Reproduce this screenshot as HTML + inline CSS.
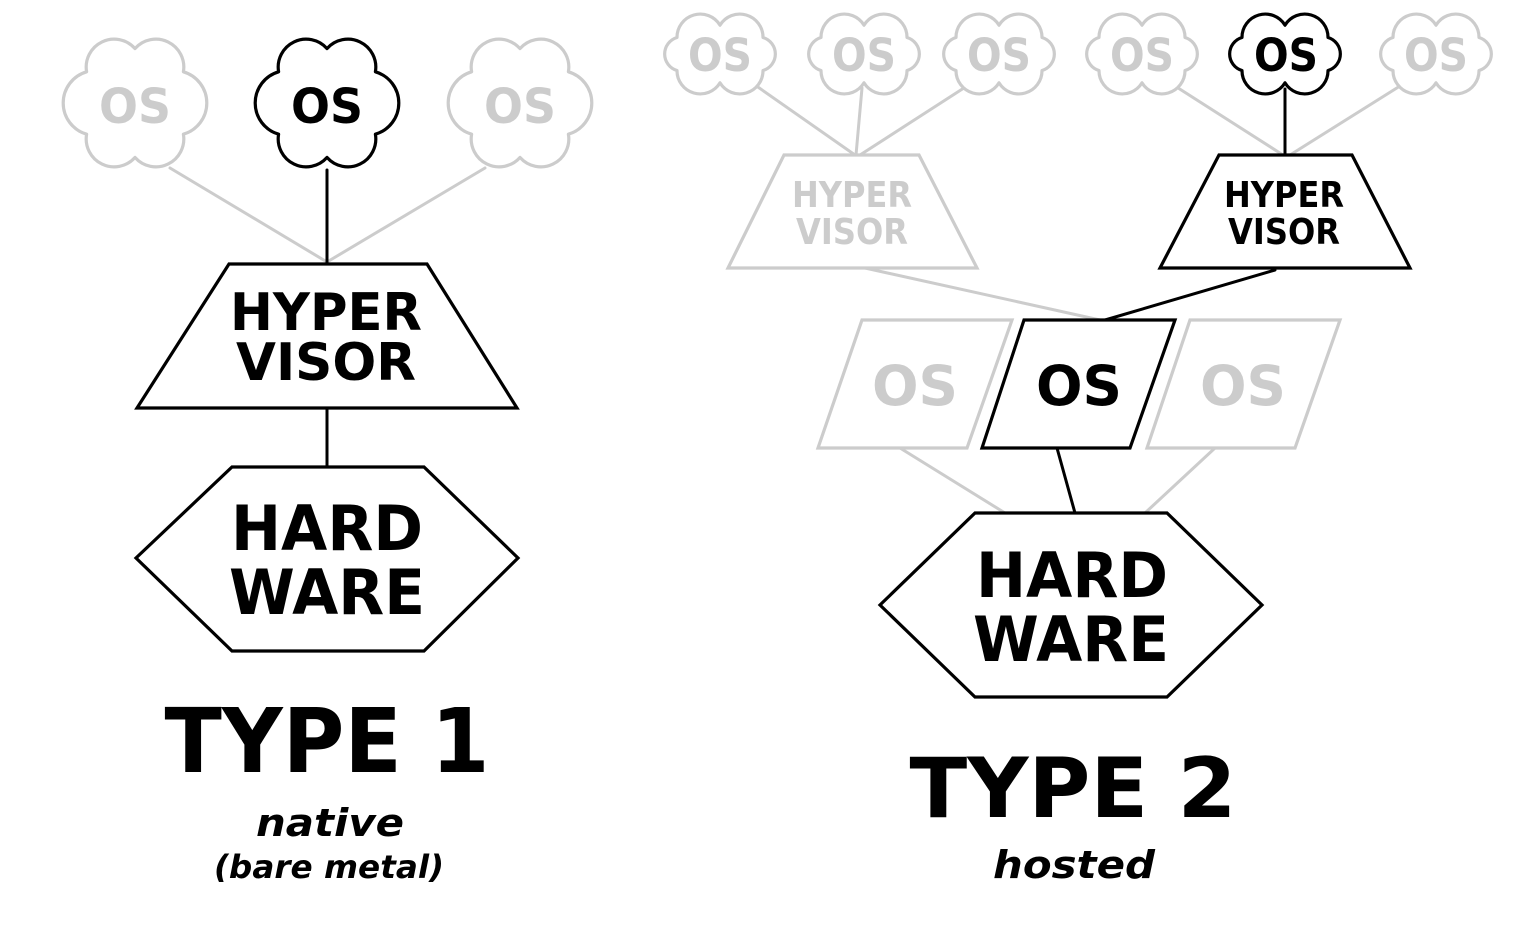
<!DOCTYPE html>
<html><head><meta charset="utf-8"><style>
html,body{margin:0;padding:0;background:#fff;}
svg{display:block;}
text{font-family:"DejaVu Sans","Liberation Sans",sans-serif;font-weight:bold;text-anchor:middle;}
</style></head><body>
<svg id="s" width="1535" height="937" viewBox="0 0 1535 937" xmlns="http://www.w3.org/2000/svg">
<g fill="none" stroke-width="3" stroke-linecap="round">
<line x1="170" y1="168" x2="327" y2="262" stroke="#ccc"/>
<line x1="485" y1="168" x2="327" y2="262" stroke="#ccc"/>
<line x1="327" y1="170" x2="327" y2="264" stroke="#000"/>
<line x1="327" y1="408" x2="327" y2="467" stroke="#000"/>
<line x1="755" y1="85" x2="855" y2="155" stroke="#ccc"/>
<line x1="862" y1="88" x2="856" y2="155" stroke="#ccc"/>
<line x1="967" y1="86" x2="860" y2="155" stroke="#ccc"/>
<line x1="1175" y1="86" x2="1283" y2="155" stroke="#ccc"/>
<line x1="1400" y1="86" x2="1290" y2="155" stroke="#ccc"/>
<line x1="1285" y1="89" x2="1285" y2="155" stroke="#000"/>
<line x1="865" y1="268" x2="1100" y2="320" stroke="#ccc"/>
<line x1="1275" y1="270" x2="1105" y2="320" stroke="#000"/>
<line x1="900" y1="448" x2="1005" y2="513" stroke="#ccc"/>
<line x1="1215" y1="448" x2="1145" y2="513" stroke="#ccc"/>
<line x1="1057" y1="448" x2="1075" y2="513" stroke="#000"/>
</g>
<g id="clouds" stroke-width="3.2" fill="#fff"></g>
<g stroke-width="3.2" fill="#fff" stroke-linejoin="miter">
<polygon points="229,264 427,264 517,408 137,408" stroke="#000"/>
<polygon points="232,467 424,467 518,558 424,651 232,651 136,558" stroke="#000"/>
<polygon points="784,155 919,155 977,268 728,268" stroke="#ccc"/>
<polygon points="1219,155 1352,155 1410,268 1160,268" stroke="#000"/>
<polygon points="862,320 1012,320 967,448 818,448" stroke="#ccc"/>
<polygon points="1190,320 1340,320 1295,448 1147,448" stroke="#ccc"/>
<polygon points="1024,320 1175,320 1130,448 982,448" stroke="#000"/>
<polygon points="975,513 1167,513 1262,605 1167,697 975,697 880,605" stroke="#000"/>
</g>
<g>
<text x="135" y="123" font-size="48" fill="#ccc" textLength="72" lengthAdjust="spacingAndGlyphs">OS</text>
<text x="327" y="123" font-size="48" fill="#000" textLength="72" lengthAdjust="spacingAndGlyphs">OS</text>
<text x="520" y="123" font-size="48" fill="#ccc" textLength="72" lengthAdjust="spacingAndGlyphs">OS</text>
<text x="326" y="330" font-size="52" textLength="192" lengthAdjust="spacingAndGlyphs">HYPER</text>
<text x="326" y="380" font-size="52" textLength="180" lengthAdjust="spacingAndGlyphs">VISOR</text>
<text x="327" y="550" font-size="62" textLength="192" lengthAdjust="spacingAndGlyphs">HARD</text>
<text x="327" y="614" font-size="62" textLength="196" lengthAdjust="spacingAndGlyphs">WARE</text>
<text x="327" y="772" font-size="89" textLength="325" lengthAdjust="spacingAndGlyphs">TYPE 1</text>
<text x="330" y="836" font-size="38" font-style="italic" textLength="148" lengthAdjust="spacingAndGlyphs">native</text>
<text x="329" y="878" font-size="32" font-style="italic" textLength="230" lengthAdjust="spacingAndGlyphs">(bare metal)</text>

<text x="720" y="71" font-size="45" fill="#ccc" textLength="64" lengthAdjust="spacingAndGlyphs">OS</text>
<text x="864" y="71" font-size="45" fill="#ccc" textLength="64" lengthAdjust="spacingAndGlyphs">OS</text>
<text x="999" y="71" font-size="45" fill="#ccc" textLength="64" lengthAdjust="spacingAndGlyphs">OS</text>
<text x="1142" y="71" font-size="45" fill="#ccc" textLength="64" lengthAdjust="spacingAndGlyphs">OS</text>
<text x="1286" y="71" font-size="45" fill="#000" textLength="64" lengthAdjust="spacingAndGlyphs">OS</text>
<text x="1436" y="71" font-size="45" fill="#ccc" textLength="64" lengthAdjust="spacingAndGlyphs">OS</text>
<text x="852" y="207" font-size="36" fill="#ccc" textLength="120" lengthAdjust="spacingAndGlyphs">HYPER</text>
<text x="852" y="244" font-size="36" fill="#ccc" textLength="112" lengthAdjust="spacingAndGlyphs">VISOR</text>
<text x="1284" y="207" font-size="36" textLength="120" lengthAdjust="spacingAndGlyphs">HYPER</text>
<text x="1284" y="244" font-size="36" textLength="112" lengthAdjust="spacingAndGlyphs">VISOR</text>
<text x="915" y="405" font-size="55" fill="#ccc" textLength="86" lengthAdjust="spacingAndGlyphs">OS</text>
<text x="1079" y="405" font-size="55" fill="#000" textLength="86" lengthAdjust="spacingAndGlyphs">OS</text>
<text x="1243" y="405" font-size="55" fill="#ccc" textLength="86" lengthAdjust="spacingAndGlyphs">OS</text>
<text x="1072" y="597" font-size="62" textLength="192" lengthAdjust="spacingAndGlyphs">HARD</text>
<text x="1071" y="661" font-size="62" textLength="196" lengthAdjust="spacingAndGlyphs">WARE</text>
<text x="1073" y="817" font-size="83" textLength="327" lengthAdjust="spacingAndGlyphs">TYPE 2</text>
<text x="1074" y="878" font-size="38" font-style="italic" textLength="162" lengthAdjust="spacingAndGlyphs">hosted</text>
</g>
</svg>
<script>
(function(){
var g=document.getElementById('clouds');
function cloud(cx,cy,rx,ry,col){
 var angs=[90,35,-35,-90,-145,145,90];
 var pts=angs.map(function(a){var r=a*Math.PI/180;return [cx+rx*0.82*Math.cos(r),cy-ry*0.8*Math.sin(r)];});
 var d='M'+pts[0][0].toFixed(1)+','+pts[0][1].toFixed(1);
 for(var i=1;i<pts.length;i++){
  var dx=pts[i][0]-pts[i-1][0],dy=pts[i][1]-pts[i-1][1];
  var ch=Math.sqrt(dx*dx+dy*dy);var r=ch*0.52;
  d+=' A'+r.toFixed(1)+','+r.toFixed(1)+' 0 0 1 '+pts[i][0].toFixed(1)+','+pts[i][1].toFixed(1);
 }
 d+='Z';
 var p=document.createElementNS('http://www.w3.org/2000/svg','path');
 p.setAttribute('d',d);p.setAttribute('stroke',col);p.setAttribute('stroke-linejoin','round');
 g.appendChild(p);
}
cloud(135,103,72,68,'#ccc');cloud(327,103,72,68,'#000');cloud(520,103,72,68,'#ccc');
var xs=[720,864,999,1142,1285,1436];
xs.forEach(function(x,i){cloud(x,54,64,36,i==4?'#000':'#ccc');});
})();
</script>
</body></html>
